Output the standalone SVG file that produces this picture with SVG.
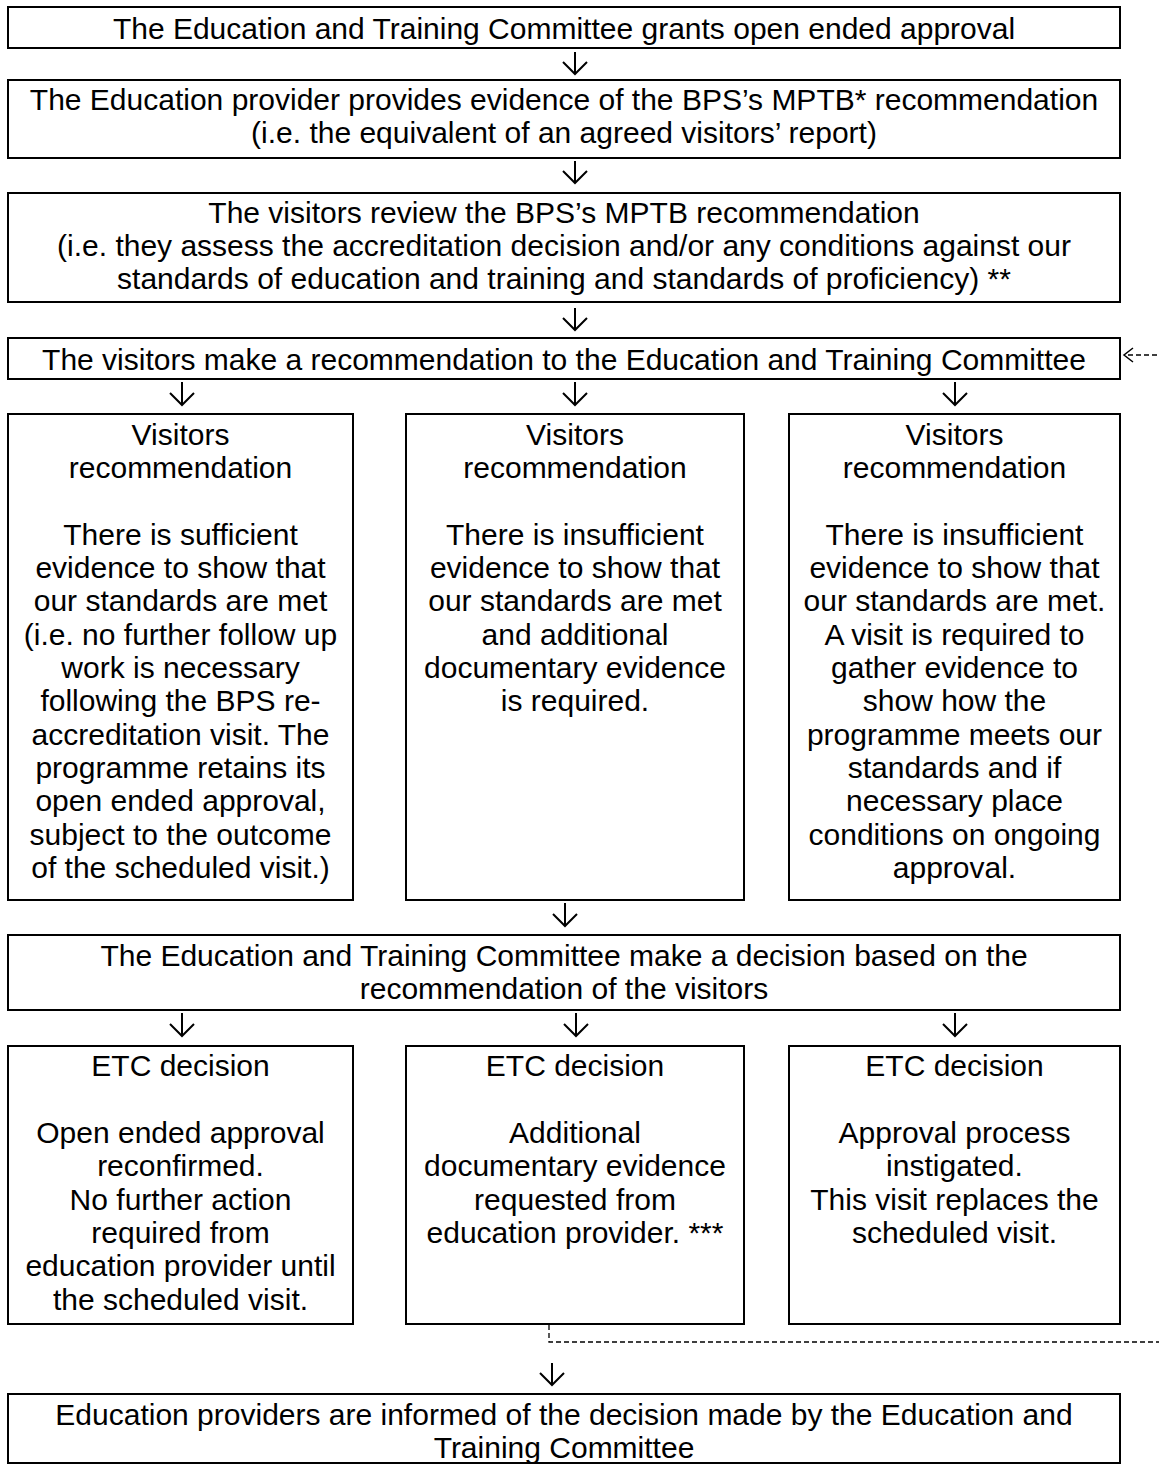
<svg xmlns="http://www.w3.org/2000/svg" width="1159" height="1466" viewBox="0 0 1159 1466">
<style>
.box{fill:#fff;stroke:#000;stroke-width:2}
text{font-family:"Liberation Sans",Arial,sans-serif;font-size:30px;fill:#000;text-anchor:middle}
.arr{fill:none;stroke:#000;stroke-width:2}
.dash{fill:none;stroke:#000;stroke-width:1.3;stroke-dasharray:5 3}
.head{fill:none;stroke:#000;stroke-width:1.5}
</style>
<rect width="1159" height="1466" fill="#fff"/>
<g id="n1">
<rect class="box" x="8" y="7" width="1112" height="41"/>
<text x="564" y="39">The Education and Training Committee grants open ended approval</text>
</g>
<g id="n2">
<rect class="box" x="8" y="80" width="1112" height="78"/>
<text x="564" y="110">The Education provider provides evidence of the BPS’s MPTB* recommendation</text>
<text x="564" y="143">(i.e. the equivalent of an agreed visitors’ report)</text>
</g>
<g id="n3">
<rect class="box" x="8" y="193" width="1112" height="109"/>
<text x="564" y="223">The visitors review the BPS’s MPTB recommendation</text>
<text x="564" y="256">(i.e. they assess the accreditation decision and/or any conditions against our</text>
<text x="564" y="289">standards of education and training and standards of proficiency) **</text>
</g>
<g id="n4">
<rect class="box" x="8" y="338" width="1112" height="41"/>
<text x="564" y="370">The visitors make a recommendation to the Education and Training Committee</text>
</g>
<g id="v1">
<rect class="box" x="8" y="414" width="345" height="486"/>
<text x="180.5" y="445">Visitors</text>
<text x="180.5" y="478">recommendation</text>
<text x="180.5" y="545">There is sufficient</text>
<text x="180.5" y="578">evidence to show that</text>
<text x="180.5" y="611">our standards are met</text>
<text x="180.5" y="645">(i.e. no further follow up</text>
<text x="180.5" y="678">work is necessary</text>
<text x="180.5" y="711">following the BPS re-</text>
<text x="180.5" y="745">accreditation visit. The</text>
<text x="180.5" y="778">programme retains its</text>
<text x="180.5" y="811">open ended approval,</text>
<text x="180.5" y="845">subject to the outcome</text>
<text x="180.5" y="878">of the scheduled visit.)</text>
</g>
<g id="v2">
<rect class="box" x="406" y="414" width="338" height="486"/>
<text x="575" y="445">Visitors</text>
<text x="575" y="478">recommendation</text>
<text x="575" y="545">There is insufficient</text>
<text x="575" y="578">evidence to show that</text>
<text x="575" y="611">our standards are met</text>
<text x="575" y="645">and additional</text>
<text x="575" y="678">documentary evidence</text>
<text x="575" y="711">is required.</text>
</g>
<g id="v3">
<rect class="box" x="789" y="414" width="331" height="486"/>
<text x="954.5" y="445">Visitors</text>
<text x="954.5" y="478">recommendation</text>
<text x="954.5" y="545">There is insufficient</text>
<text x="954.5" y="578">evidence to show that</text>
<text x="954.5" y="611">our standards are met.</text>
<text x="954.5" y="645">A visit is required to</text>
<text x="954.5" y="678">gather evidence to</text>
<text x="954.5" y="711">show how the</text>
<text x="954.5" y="745">programme meets our</text>
<text x="954.5" y="778">standards and if</text>
<text x="954.5" y="811">necessary place</text>
<text x="954.5" y="845">conditions on ongoing</text>
<text x="954.5" y="878">approval.</text>
</g>
<g id="n5">
<rect class="box" x="8" y="935" width="1112" height="75"/>
<text x="564" y="966">The Education and Training Committee make a decision based on the</text>
<text x="564" y="999">recommendation of the visitors</text>
</g>
<g id="e1">
<rect class="box" x="8" y="1046" width="345" height="278"/>
<text x="180.5" y="1076">ETC decision</text>
<text x="180.5" y="1143">Open ended approval</text>
<text x="180.5" y="1176">reconfirmed.</text>
<text x="180.5" y="1210">No further action</text>
<text x="180.5" y="1243">required from</text>
<text x="180.5" y="1276">education provider until</text>
<text x="180.5" y="1310">the scheduled visit.</text>
</g>
<g id="e2">
<rect class="box" x="406" y="1046" width="338" height="278"/>
<text x="575" y="1076">ETC decision</text>
<text x="575" y="1143">Additional</text>
<text x="575" y="1176">documentary evidence</text>
<text x="575" y="1210">requested from</text>
<text x="575" y="1243">education provider. ***</text>
</g>
<g id="e3">
<rect class="box" x="789" y="1046" width="331" height="278"/>
<text x="954.5" y="1076">ETC decision</text>
<text x="954.5" y="1143">Approval process</text>
<text x="954.5" y="1176">instigated.</text>
<text x="954.5" y="1210">This visit replaces the</text>
<text x="954.5" y="1243">scheduled visit.</text>
</g>
<g id="n6">
<rect class="box" x="8" y="1394" width="1112" height="69"/>
<text x="564" y="1425">Education providers are informed of the decision made by the Education and</text>
<text x="564" y="1458">Training Committee</text>
</g>
<g id="connectors">
<path class="arr" d="M575,52 V74 M563,62 L575,74 L587,62"/>
<path class="arr" d="M575,161 V183 M563,171 L575,183 L587,171"/>
<path class="arr" d="M575,308 V330 M563,318 L575,330 L587,318"/>
<path class="arr" d="M182,382 V405 M170,393 L182,405 L194,393"/>
<path class="arr" d="M575,382 V405 M563,393 L575,405 L587,393"/>
<path class="arr" d="M955,382 V405 M943,393 L955,405 L967,393"/>
<path class="arr" d="M565,903 V926 M553,914 L565,926 L577,914"/>
<path class="arr" d="M182,1013 V1036 M170,1024 L182,1036 L194,1024"/>
<path class="arr" d="M576,1013 V1036 M564,1024 L576,1036 L588,1024"/>
<path class="arr" d="M955,1013 V1036 M943,1024 L955,1036 L967,1024"/>
<path class="arr" d="M552,1363 V1385 M540,1373 L552,1385 L564,1373"/>
<path class="dash" d="M549,1325 V1342 H1175 V355 H1128"/>
<path class="head" d="M1133,348 L1124,355 L1133,362"/>
</g>
</svg>
